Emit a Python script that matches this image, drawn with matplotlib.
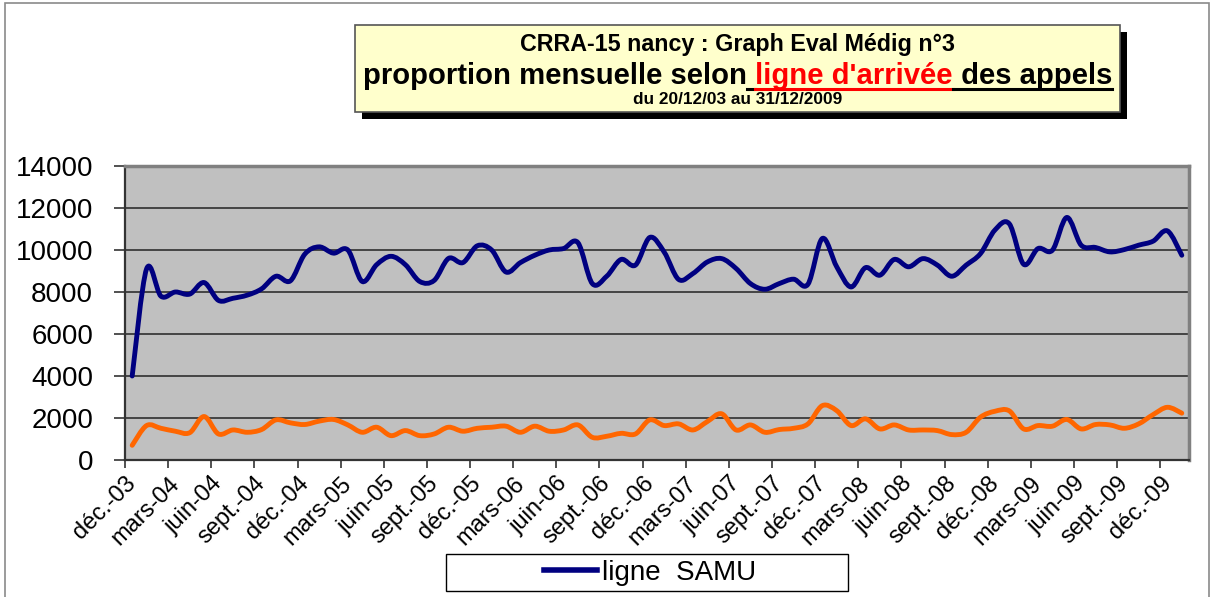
import numpy as np
import matplotlib
matplotlib.use("Agg")
import matplotlib.pyplot as plt
from matplotlib.path import Path
from matplotlib.patches import PathPatch, Rectangle
from matplotlib.lines import Line2D

# ---------------- data ----------------
tick_labels = ["déc.-03", "mars-04", "juin-04", "sept.-04", "déc.-04", "mars-05", "juin-05",
               "sept.-05", "déc.-05", "mars-06", "juin-06", "sept.-06", "déc.-06", "mars-07",
               "juin-07", "sept.-07", "déc.-07", "mars-08", "juin-08", "sept.-08", "déc.-08",
               "mars-09", "juin-09", "sept.-09", "déc.-09"]

ligne_samu = [4000, 9100, 7800, 8000, 7900, 8450, 7600, 7700, 7850, 8150,
              8750, 8530, 9800, 10150, 9850, 10000, 8500, 9300, 9700, 9300,
              8500, 8550, 9600, 9400, 10200, 10000, 8950, 9400, 9750, 10000,
              10070, 10350, 8400, 8750, 9550, 9280, 10600, 9900, 8600, 8880,
              9430, 9590, 9120, 8400, 8130, 8400, 8610, 8370, 10550, 9200,
              8240, 9160, 8800, 9550, 9200, 9590, 9280, 8750, 9280, 9830,
              10950, 11250, 9320, 10070, 9990, 11550, 10230, 10120, 9910, 10020,
              10230, 10420, 10910, 9750]

ligne_autre = [700, 1640, 1510, 1370, 1300, 2070, 1240, 1430, 1320, 1450,
               1910, 1770, 1690, 1850, 1930, 1670, 1320, 1560, 1160, 1400,
               1160, 1240, 1560, 1370, 1510, 1560, 1610, 1320, 1610, 1370,
               1430, 1670, 1080, 1130, 1270, 1240, 1910, 1640, 1720, 1430,
               1830, 2200, 1430, 1670, 1320, 1450, 1510, 1720, 2590, 2350,
               1640, 1960, 1480, 1670, 1430, 1430, 1400, 1210, 1320, 2040,
               2320, 2340, 1480, 1640, 1610, 1930, 1480, 1690, 1670, 1510,
               1720, 2160, 2510, 2230]

months_per_tick = 3
n_months = len(ligne_samu)

# ---------------- figure ----------------
W, H = 1213, 597
fig = plt.figure(figsize=(W / 100, H / 100), dpi=100)
plt.rcParams["font.family"] = ["Liberation Sans", "DejaVu Sans"]

def fx(px):
    return px / W

def fy(py):
    return 1 - py / H

# outer frame
fig.patches.append(Rectangle((fx(5), fy(620)), fx(1209) - fx(5), fy(3) - fy(620),
                             transform=fig.transFigure, fill=False,
                             edgecolor="#8a8a8a", lw=1.2))

# ---------------- axes ----------------
ax = fig.add_axes([fx(125), fy(460), fx(1189) - fx(125), fy(166) - fy(460)])
ax.set_facecolor("#C0C0C0")
ax.set_xlim(0, n_months)
ax.set_ylim(0, 14000)
ax.set_yticks(np.arange(0, 14001, 2000))
ax.set_yticklabels([str(v) for v in range(0, 14001, 2000)], fontsize=20)
ax.yaxis.grid(True, color="#3a3a3a", lw=1.3)
ax.set_axisbelow(True)
tick_pos = np.arange(len(tick_labels)) * months_per_tick
ax.set_xticks(tick_pos)
ax.set_xticklabels(tick_labels, fontsize=17, rotation=45, ha="right",
                   rotation_mode="anchor")
ax.tick_params(axis="y", length=8, width=1.2, pad=15, color="#333333")
ax.tick_params(axis="x", length=6, width=1.2, pad=3, color="#333333")
for s in ("left", "bottom"):
    ax.spines[s].set_color("#333333")
    ax.spines[s].set_linewidth(1.6)
for s in ("top", "right"):
    ax.spines[s].set_color("#808080")
    ax.spines[s].set_linewidth(2.5)


def smooth_path(xs, ys):
    """Excel-like smoothed line as cubic Bezier segments through the data points."""
    pts = np.column_stack([xs, ys]).astype(float)
    n = len(pts)
    verts = [pts[0]]
    codes = [Path.MOVETO]
    for i in range(n - 1):
        p0 = pts[i - 1] if i > 0 else pts[i]
        p1 = pts[i]
        p2 = pts[i + 1]
        p3 = pts[i + 2] if i + 2 < n else pts[i + 1]
        c1 = p1 + (p2 - p0) / 6.0
        c2 = p2 - (p3 - p1) / 6.0
        verts += [c1, c2, p2]
        codes += [Path.CURVE4] * 3
    return Path(verts, codes)


xs = np.arange(n_months) + 0.5
navy = "#000080"
orange = "#FF6600"
ax.add_patch(PathPatch(smooth_path(xs, ligne_autre), facecolor="none",
                       edgecolor=orange, lw=3.5, capstyle="round", joinstyle="round"))
ax.add_patch(PathPatch(smooth_path(xs, ligne_samu), facecolor="none",
                       edgecolor=navy, lw=3.5, capstyle="round", joinstyle="round"))

# ---------------- title box ----------------
fig.patches.append(Rectangle((fx(362), fy(119)), fx(1127) - fx(362), fy(32) - fy(119),
                             transform=fig.transFigure, facecolor="black",
                             edgecolor="black", lw=0))
fig.patches.append(Rectangle((fx(355), fy(112)), fx(1120) - fx(355), fy(25) - fy(112),
                             transform=fig.transFigure, facecolor="#FFFFCC",
                             edgecolor="#555555", lw=1.2))

r = fig.canvas.get_renderer()


def width_at(txt, size, weight="bold"):
    t = fig.text(0, 0, txt, fontsize=size, fontweight=weight)
    w = t.get_window_extent(r).width
    t.remove()
    return w


def fit(txt, target):
    return 10 * target / width_at(txt, 10)


title1 = "CRRA-15 nancy : Graph Eval Médig n°3"
title3 = "du 20/12/03 au 31/12/2009"
parts2 = ["proportion mensuelle selon", " ligne d'arrivée", " des appels"]
colors2 = ["black", "#FF0000", "black"]

fig.text(fx(737.5), fy(50.5), title1, fontsize=fit(title1, 435), fontweight="bold",
         ha="center", va="baseline")
fig.text(fx(737.5), fy(104.5), title3, fontsize=fit(title3, 209), fontweight="bold",
         ha="center", va="baseline")

s2 = fit("".join(parts2), 749)
widths = [width_at(p, s2) for p in parts2]
total = sum(widths)
x0 = 737.5 - total / 2
xpos = []
for p, c, w in zip(parts2, colors2, widths):
    fig.text(fx(x0), fy(83.5), p, fontsize=s2, fontweight="bold", color=c,
             ha="left", va="baseline")
    xpos.append((x0, x0 + w))
    x0 += w
# underline
sp = width_at(" ", s2)
ul_y = fy(88.5)
fig.add_artist(Line2D([fx(xpos[1][0]), fx(xpos[1][0] + sp)], [ul_y, ul_y],
                      transform=fig.transFigure, color="black", lw=2.2))
fig.add_artist(Line2D([fx(xpos[1][0] + sp), fx(xpos[1][1])], [ul_y, ul_y],
                      transform=fig.transFigure, color="#FF0000", lw=2.2))
fig.add_artist(Line2D([fx(xpos[2][0]), fx(xpos[2][1])], [ul_y, ul_y],
                      transform=fig.transFigure, color="black", lw=2.2))

# ---------------- legend ----------------
fig.patches.append(Rectangle((fx(446), fy(591)), fx(848) - fx(446), fy(554) - fy(591),
                             transform=fig.transFigure, facecolor="white",
                             edgecolor="black", lw=1.0))
fig.legend(handles=[Line2D([], [], color=navy, lw=4)], labels=["ligne  SAMU"],
           loc="center", bbox_to_anchor=(fx(650), fy(572.5)), frameon=False,
           fontsize=20, handlelength=1.9, handletextpad=0.2, borderpad=0.1)

fig.savefig("out.png", dpi=100)
